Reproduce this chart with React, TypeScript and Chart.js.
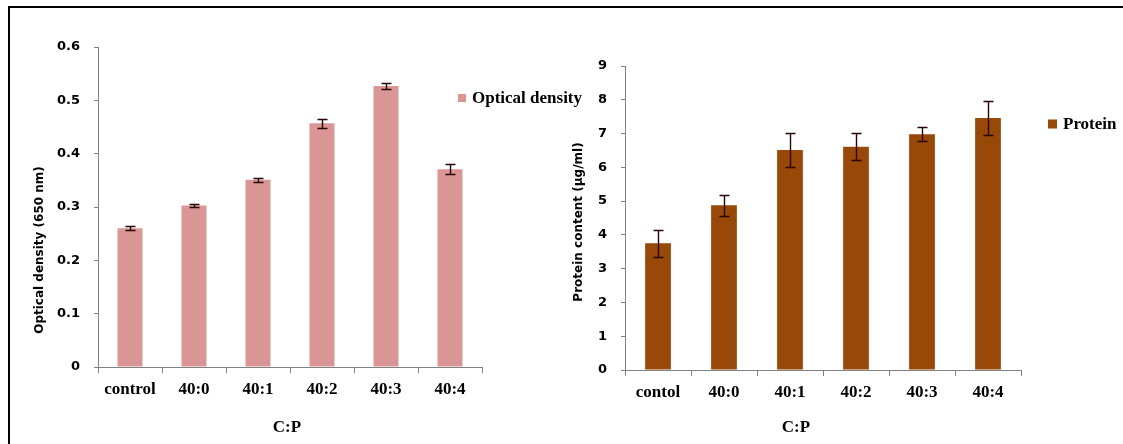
import React, { useEffect, useRef } from 'react';
import { Chart, registerables } from 'chart.js';

Chart.register(...registerables);

// ---------- data ----------
const odCategories = ['control', '40:0', '40:1', '40:2', '40:3', '40:4'];
const odValues = [0.26, 0.303, 0.351, 0.457, 0.527, 0.371];
const odErrors = [0.004, 0.003, 0.004, 0.008, 0.005, 0.009];
const odTickLabels = ['0', '0.1', '0.2', '0.3', '0.4', '0.5', '0.6'];

const proteinCategories = ['contol', '40:0', '40:1', '40:2', '40:3', '40:4'];
const proteinValues = [3.75, 4.88, 6.51, 6.61, 6.98, 7.46];
const proteinErrors = [0.4, 0.31, 0.5, 0.4, 0.2, 0.5];
const proteinTickLabels = ['0', '1', '2', '3', '4', '5', '6', '7', '8', '9'];

const SERIF = '"Liberation Serif", "Times New Roman", serif';
const SANS = '"DejaVu Sans", Verdana, sans-serif';

type Panel = {
  categories: string[];
  values: number[];
  errors: number[];
  tickLabels: string[];
  label: string;
  color: string;
  yMax: number;
  step: number;
  yTitle: string;
  xTitle: string;
  canvasW: number;
  canvasH: number;
  yAxisW: number;
  xAxisH: number;
  padTop: number;
  padRight: number;
  yTitleX: number;
  yTitleY: number;
  xTitleX: number;
  xTitleY: number;
  legendX: number;
  legendY: number;
  legendBox: number;
};

const annotate = {
  id: 'annotate',
  afterDatasetsDraw(chart: any, _a: any, opts: any) {
    const p: Panel = opts.panel;
    if (!p) return;
    const ctx = chart.ctx;
    const meta = chart.getDatasetMeta(0);
    const ys = chart.scales.y;
    ctx.save();
    ctx.strokeStyle = '#2a0505';
    ctx.lineWidth = 1.4;
    const cap = 5;
    meta.data.forEach((el: any, i: number) => {
      const v = p.values[i];
      const e = p.errors[i];
      const yt = Math.round(ys.getPixelForValue(v + e)) + 0.5;
      const yb = Math.round(ys.getPixelForValue(v - e)) + 0.5;
      const x = Math.round(el.x) + 0.5;
      ctx.beginPath();
      ctx.moveTo(x, yt);
      ctx.lineTo(x, yb);
      ctx.moveTo(x - cap, yt);
      ctx.lineTo(x + cap, yt);
      ctx.moveTo(x - cap, yb);
      ctx.lineTo(x + cap, yb);
      ctx.stroke();
    });
    ctx.restore();
  },
  afterDraw(chart: any, _a: any, opts: any) {
    const p: Panel = opts.panel;
    if (!p) return;
    const ctx = chart.ctx;
    ctx.save();
    ctx.fillStyle = '#000';
    // y title
    ctx.save();
    ctx.translate(p.yTitleX, p.yTitleY);
    ctx.rotate(-Math.PI / 2);
    ctx.font = `bold 12px ${SANS}`;
    ctx.textAlign = 'center';
    ctx.textBaseline = 'middle';
    ctx.fillText(p.yTitle, 0, 0);
    ctx.restore();
    // x title
    ctx.font = `bold 17px ${SERIF}`;
    ctx.textAlign = 'center';
    ctx.textBaseline = 'middle';
    ctx.fillText(p.xTitle, p.xTitleX, p.xTitleY);
    // legend
    const ds = chart.data.datasets[0];
    ctx.fillStyle = ds.backgroundColor;
    ctx.fillRect(p.legendX, p.legendY - p.legendBox / 2, p.legendBox, p.legendBox);
    ctx.fillStyle = '#000';
    ctx.textAlign = 'left';
    ctx.fillText(ds.label, p.legendX + p.legendBox + 6, p.legendY + 1);
    ctx.restore();
  },
};

function BarPanel({ p, left }: { p: Panel; left: number }) {
  const ref = useRef<HTMLCanvasElement | null>(null);
  useEffect(() => {
    if (!ref.current) return;
    const axisColor = '#828282';
    const chart = new Chart(ref.current, {
      type: 'bar',
      data: {
        labels: p.categories,
        datasets: [
          {
            label: p.label,
            data: p.values,
            backgroundColor: p.color,
            borderWidth: 0,
            barPercentage: 0.78,
            categoryPercentage: 0.5,
          },
        ],
      },
      options: {
        responsive: false,
        animation: false,
        devicePixelRatio: 1,
        layout: { padding: { left: 0, right: p.padRight, top: p.padTop, bottom: 0 } },
        plugins: {
          legend: { display: false },
          title: { display: false },
          tooltip: { enabled: false },
          annotate: { panel: p },
        } as any,
        scales: {
          x: {
            type: 'category',
            offset: true,
            grid: {
              display: true,
              offset: true,
              drawOnChartArea: false,
              drawTicks: true,
              tickLength: 6,
              color: axisColor,
            },
            border: { display: true, color: axisColor, width: 1 },
            ticks: {
              color: '#000',
              padding: 6,
              maxRotation: 0,
              autoSkip: false,
              font: { family: SERIF, size: 17, weight: 'bold' },
            },
            afterFit: (s: any) => {
              s.height = p.xAxisH;
            },
          },
          y: {
            type: 'linear',
            min: 0,
            max: p.yMax,
            grid: {
              display: true,
              drawOnChartArea: false,
              drawTicks: true,
              tickLength: 4,
              color: axisColor,
            },
            border: { display: true, color: axisColor, width: 1 },
            ticks: {
              stepSize: p.step,
              color: '#000',
              padding: 14,
              font: { family: SANS, size: 13, weight: 'bold' },
              callback: (_v: any, i: number) => p.tickLabels[i],
            },
            afterFit: (s: any) => {
              s.width = p.yAxisW;
            },
          },
        },
      } as any,
      plugins: [annotate as any],
    });
    return () => chart.destroy();
  }, [p]);
  return (
    <canvas
      ref={ref}
      width={p.canvasW}
      height={p.canvasH}
      style={{
        position: 'absolute',
        left,
        top: 0,
        width: p.canvasW,
        height: p.canvasH,
        display: 'block',
      }}
    />
  );
}

const leftPanel: Panel = {
  categories: odCategories,
  values: odValues,
  errors: odErrors,
  tickLabels: odTickLabels,
  label: 'Optical density',
  color: '#D99694',
  yMax: 0.6,
  step: 0.1,
  yTitle: 'Optical density (650 nm)',
  xTitle: 'C:P',
  canvasW: 600,
  canvasH: 444,
  yAxisW: 98,
  xAxisH: 77,
  padTop: 47,
  padRight: 118,
  yTitleX: 40,
  yTitleY: 250,
  xTitleX: 287,
  xTitleY: 428,
  legendX: 458,
  legendY: 98,
  legendBox: 8,
};

const rightPanel: Panel = {
  categories: proteinCategories,
  values: proteinValues,
  errors: proteinErrors,
  tickLabels: proteinTickLabels,
  label: 'Protein',
  color: '#984807',
  yMax: 9,
  step: 1,
  yTitle: 'Protein content (µg/ml)',
  xTitle: 'C:P',
  canvasW: 563,
  canvasH: 444,
  yAxisW: 65,
  xAxisH: 74,
  padTop: 66,
  padRight: 102,
  yTitleX: 19,
  yTitleY: 222,
  xTitleX: 236,
  xTitleY: 428,
  legendX: 488,
  legendY: 124,
  legendBox: 9,
};

export default function App() {
  return (
    <div
      style={{
        position: 'absolute',
        left: 0,
        top: 0,
        width: 1123,
        height: 444,
        overflow: 'hidden',
        background: '#fff',
      }}
    >
      <div
        style={{
          position: 'absolute',
          left: 8,
          top: 6,
          width: 1115,
          height: 438,
          boxSizing: 'border-box',
          borderTop: '2px solid #000',
          borderLeft: '2px solid #000',
        }}
      />
      <BarPanel p={leftPanel} left={0} />
      <BarPanel p={rightPanel} left={560} />
    </div>
  );
}
